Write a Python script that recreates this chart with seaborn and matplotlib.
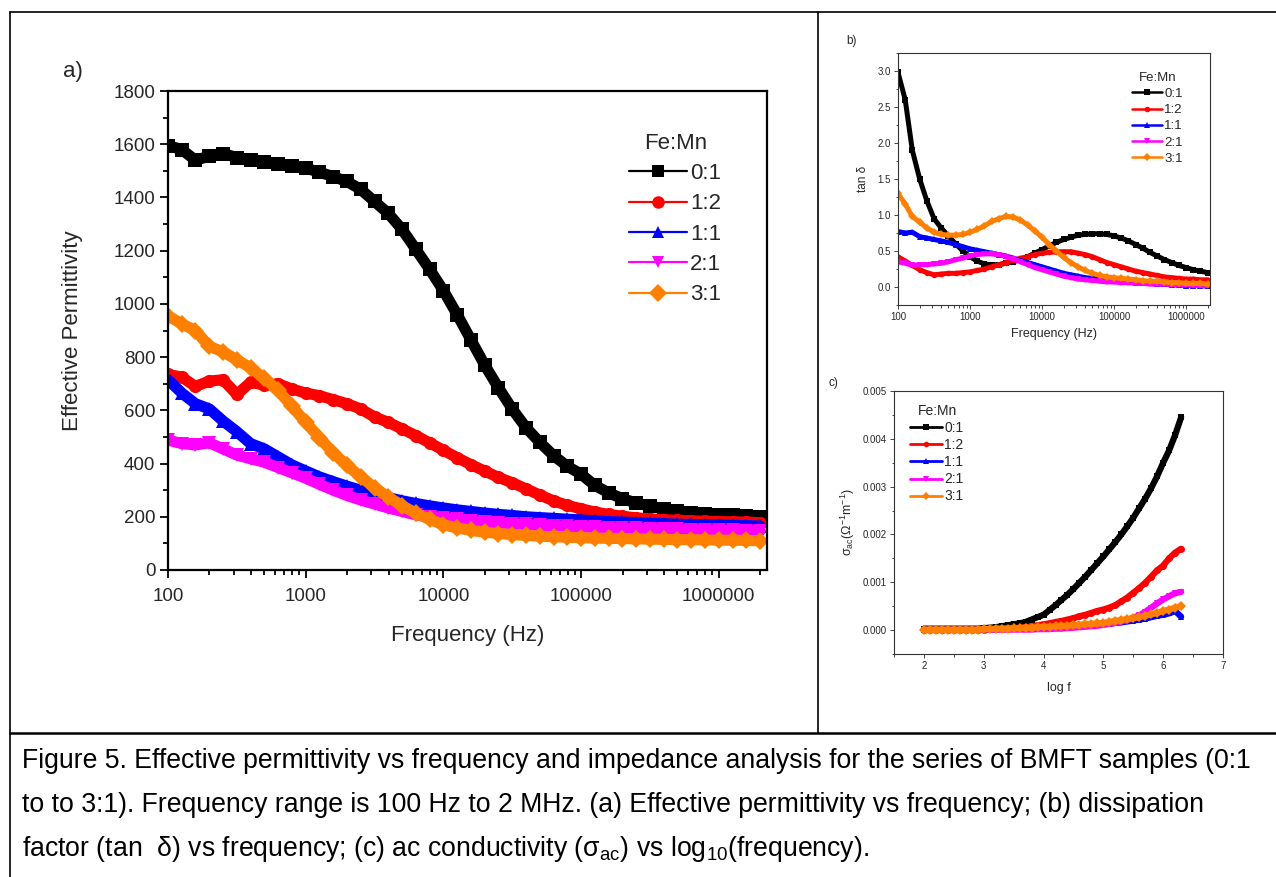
import matplotlib
matplotlib.use('Agg')
import matplotlib.pyplot as plt
from matplotlib.lines import Line2D
from matplotlib.ticker import LogLocator, NullFormatter, MultipleLocator, FormatStrFormatter
import seaborn as sns
import pandas as pd
import numpy as np

# measurement frequencies (Hz), 0.1 decade apart
FREQ = [100, 126, 158, 200, 251, 316, 398, 501, 631, 794,
        1000, 1259, 1585, 1995, 2512, 3162, 3981, 5012, 6310, 7943,
        10000, 12589, 15849, 19953, 25119, 31623, 39811, 50119, 63096, 79433,
        100000, 125893, 158489, 199526, 251189, 316228, 398107, 501187, 630957, 794328,
        1000000, 1258925, 1584893, 1995262]

LABELS = ['0:1', '1:2', '1:1', '2:1', '3:1']
COLORS = ['#000000', '#FF0000', '#0000FF', '#FF00FF', '#FF8000']
MARKERS = ['s', 'o', '^', 'v', 'D']

# (a) effective permittivity
EPS_01 = [1595, 1580, 1540, 1555, 1565, 1550, 1540, 1532, 1525, 1518,
          1510, 1495, 1478, 1460, 1430, 1385, 1340, 1280, 1205, 1130,
          1050, 960, 865, 770, 685, 605, 535, 480, 430, 390,
          360, 318, 290, 268, 252, 240, 230, 222, 216, 212,
          208, 205, 202, 200]
EPS_12 = [735, 725, 690, 710, 715, 660, 705, 695, 700, 680,
          665, 655, 640, 625, 605, 575, 555, 530, 505, 478,
          450, 422, 396, 372, 348, 328, 305, 282, 260, 243,
          230, 218, 209, 202, 196, 192, 189, 187, 185, 183,
          182, 181, 180, 178]
EPS_11 = [715, 665, 625, 605, 560, 520, 475, 455, 425, 395,
          372, 350, 332, 315, 300, 285, 272, 260, 250, 241,
          233, 226, 220, 214, 209, 205, 200, 197, 194, 191,
          188, 185, 182, 180, 178, 176, 174, 172, 171, 170,
          169, 168, 167, 165]
EPS_21 = [488, 475, 470, 478, 455, 432, 418, 405, 385, 365,
          345, 322, 300, 280, 263, 248, 233, 220, 207, 200,
          195, 190, 185, 180, 177, 174, 171, 168, 166, 164,
          162, 160, 159, 157, 156, 155, 154, 153, 152, 151,
          150, 149, 148, 147]
EPS_31 = [955, 925, 900, 840, 820, 790, 760, 720, 675, 615,
          555, 497, 440, 393, 350, 310, 274, 242, 213, 190,
          170, 158, 149, 142, 137, 133, 130, 127, 125, 123,
          121, 120, 119, 118, 117, 116, 115, 114, 114, 113,
          112, 112, 111, 110]

# (b) tan delta
TAN_01 = [2.98, 2.60, 1.90, 1.50, 1.20, 0.95, 0.82, 0.71, 0.60, 0.50,
          0.42, 0.36, 0.32, 0.31, 0.31, 0.33, 0.35, 0.38, 0.42, 0.47,
          0.52, 0.57, 0.62, 0.66, 0.69, 0.72, 0.73, 0.74, 0.74, 0.73,
          0.71, 0.68, 0.64, 0.59, 0.54, 0.48, 0.43, 0.38, 0.34, 0.30,
          0.27, 0.24, 0.22, 0.20]
TAN_12 = [0.42, 0.36, 0.30, 0.24, 0.20, 0.17, 0.18, 0.19, 0.19, 0.20,
          0.21, 0.23, 0.25, 0.28, 0.31, 0.34, 0.37, 0.40, 0.42, 0.45,
          0.47, 0.48, 0.49, 0.49, 0.49, 0.47, 0.45, 0.42, 0.38, 0.34,
          0.31, 0.28, 0.25, 0.22, 0.20, 0.18, 0.16, 0.14, 0.13, 0.12,
          0.11, 0.11, 0.10, 0.10]
TAN_11 = [0.77, 0.75, 0.76, 0.70, 0.68, 0.66, 0.64, 0.62, 0.59, 0.56,
          0.53, 0.51, 0.49, 0.47, 0.45, 0.43, 0.40, 0.37, 0.34, 0.31,
          0.28, 0.25, 0.22, 0.19, 0.17, 0.15, 0.13, 0.12, 0.11, 0.10,
          0.09, 0.08, 0.07, 0.06, 0.05, 0.05, 0.04, 0.04, 0.03, 0.03,
          0.02, 0.02, 0.02, 0.01]
TAN_21 = [0.35, 0.33, 0.30, 0.31, 0.31, 0.32, 0.33, 0.35, 0.38, 0.40,
          0.43, 0.45, 0.46, 0.46, 0.45, 0.42, 0.39, 0.35, 0.31, 0.27,
          0.24, 0.21, 0.18, 0.15, 0.13, 0.11, 0.10, 0.09, 0.08, 0.07,
          0.07, 0.06, 0.06, 0.05, 0.05, 0.04, 0.04, 0.04, 0.03, 0.03,
          0.03, 0.02, 0.02, 0.02]
TAN_31 = [1.30, 1.15, 0.98, 0.90, 0.82, 0.76, 0.73, 0.72, 0.72, 0.73,
          0.76, 0.80, 0.85, 0.91, 0.95, 0.98, 0.97, 0.93, 0.86, 0.78,
          0.69, 0.59, 0.50, 0.41, 0.34, 0.28, 0.23, 0.19, 0.16, 0.14,
          0.13, 0.12, 0.11, 0.10, 0.09, 0.08, 0.08, 0.07, 0.06, 0.06,
          0.05, 0.05, 0.05, 0.04]

# (c) ac conductivity (S/m) against log f
SIG_01 = [0.00003, 0.00003, 0.00003, 0.00003, 0.00003, 0.00003, 0.00003, 0.00003, 0.00003, 0.00003,
          0.00004, 0.00005, 0.00006, 0.00008, 0.00010, 0.00012, 0.00014, 0.00017, 0.00022, 0.00027,
          0.00032, 0.00042, 0.00052, 0.00063, 0.00074, 0.00086, 0.00099, 0.00112, 0.00126, 0.00140,
          0.00154, 0.00169, 0.00184, 0.00200, 0.00217, 0.00235, 0.00255, 0.00275, 0.00297, 0.00322,
          0.00350, 0.00376, 0.00408, 0.00445]
SIG_12 = [0.00001, 0.00001, 0.00001, 0.00001, 0.00001, 0.00001, 0.00001, 0.00001, 0.00001, 0.00001,
          0.00001, 0.00002, 0.00002, 0.00003, 0.00003, 0.00004, 0.00005, 0.00006, 0.00008, 0.00010,
          0.00012, 0.00014, 0.00017, 0.00019, 0.00022, 0.00025, 0.00029, 0.00032, 0.00036, 0.00040,
          0.00043, 0.00047, 0.00052, 0.00060, 0.00068, 0.00078, 0.00088, 0.00099, 0.00112, 0.00125,
          0.00135, 0.00150, 0.00162, 0.00170]
SIG_11 = [0.00001, 0.00001, 0.00001, 0.00001, 0.00001, 0.00001, 0.00001, 0.00001, 0.00001, 0.00001,
          0.00001, 0.00002, 0.00002, 0.00002, 0.00003, 0.00003, 0.00003, 0.00004, 0.00004, 0.00004,
          0.00005, 0.00006, 0.00006, 0.00007, 0.00008, 0.00008, 0.00009, 0.00010, 0.00010, 0.00011,
          0.00012, 0.00013, 0.00015, 0.00016, 0.00018, 0.00020, 0.00022, 0.00024, 0.00027, 0.00030,
          0.00032, 0.00035, 0.00040, 0.00028]
SIG_21 = [0.00000, 0.00000, 0.00000, 0.00000, 0.00000, 0.00000, 0.00000, 0.00000, 0.00000, 0.00000,
          0.00001, 0.00001, 0.00001, 0.00001, 0.00001, 0.00001, 0.00001, 0.00001, 0.00001, 0.00002,
          0.00002, 0.00002, 0.00003, 0.00003, 0.00004, 0.00005, 0.00006, 0.00007, 0.00008, 0.00009,
          0.00011, 0.00013, 0.00015, 0.00018, 0.00021, 0.00026, 0.00031, 0.00038, 0.00047, 0.00056,
          0.00064, 0.00071, 0.00077, 0.00080]
SIG_31 = [0.00001, 0.00001, 0.00001, 0.00001, 0.00001, 0.00001, 0.00001, 0.00001, 0.00001, 0.00001,
          0.00002, 0.00002, 0.00003, 0.00003, 0.00003, 0.00004, 0.00004, 0.00005, 0.00005, 0.00006,
          0.00007, 0.00007, 0.00008, 0.00009, 0.00009, 0.00010, 0.00011, 0.00012, 0.00013, 0.00014,
          0.00015, 0.00017, 0.00019, 0.00021, 0.00023, 0.00025, 0.00027, 0.00030, 0.00033, 0.00036,
          0.00040, 0.00043, 0.00047, 0.00050]

FREQ_TICKS = [100, 1000, 10000, 100000, 1000000]
FREQ_TICKLABELS = ['100', '1000', '10000', '100000', '1000000']

CAPTION = [
    'Figure 5. Effective permittivity vs frequency and impedance analysis for the series of BMFT samples (0:1',
    'to to 3:1). Frequency range is 100 Hz to 2 MHz. (a) Effective permittivity vs frequency; (b) dissipation',
    r'factor (tan  δ) vs frequency; (c) ac conductivity (σ$_{ac}$) vs log$_{10}$(frequency).',
]

W, H = 1276, 877

sns.set_theme(style='ticks')
plt.rcParams['font.family'] = ['Liberation Sans', 'DejaVu Sans']
plt.rcParams['mathtext.default'] = 'regular'


def long_frame(series, xname, xvals, yname):
    rows = []
    for lab, vals in zip(LABELS, series):
        rows.append(pd.DataFrame({xname: xvals, yname: vals, 'Fe:Mn': lab}))
    return pd.concat(rows, ignore_index=True)


def box(x0, y0, x1, y1):
    # pixel box (left, top, right, bottom) -> figure fraction rect
    return [x0 / W, 1 - y1 / H, (x1 - x0) / W, (y1 - y0) / H]


def draw(ax, df, x, y, lw, ms):
    sns.lineplot(data=df, x=x, y=y, hue='Fe:Mn', style='Fe:Mn',
                 hue_order=LABELS, style_order=LABELS,
                 palette=dict(zip(LABELS, COLORS)),
                 markers=dict(zip(LABELS, MARKERS)), dashes=False,
                 linewidth=lw, markersize=ms, markeredgewidth=0,
                 estimator=None, sort=False, legend=False, ax=ax)


def add_legend(ax, anchor, fs, lw, ms, hlen, lspace):
    handles = [Line2D([0], [0], color=c, marker=m, lw=lw, markersize=ms,
                      markeredgewidth=0) for c, m in zip(COLORS, MARKERS)]
    ax.legend(handles, LABELS, title='Fe:Mn', frameon=False, loc='upper left',
              bbox_to_anchor=anchor, fontsize=fs, title_fontsize=fs,
              handlelength=hlen, handletextpad=0.15, labelspacing=lspace,
              borderpad=0, borderaxespad=0)


def style_axes(ax, spine_w, color, tick_fs, major_len, minor_len, pad):
    for sp in ax.spines.values():
        sp.set_visible(True)
        sp.set_linewidth(spine_w)
        sp.set_color(color)
    ax.tick_params(which='both', direction='out', top=False, right=False,
                   color=color, width=spine_w * 0.8, labelsize=tick_fs, pad=pad)
    ax.tick_params(which='major', length=major_len)
    ax.tick_params(which='minor', length=minor_len)
    ax.set_facecolor('white')


fig = plt.figure(figsize=(W / 100, H / 100), dpi=100)
fig.patch.set_facecolor('white')

# ---------- panel a ----------
ax_a = fig.add_axes(box(168, 91, 767, 570))
df_a = long_frame([EPS_01, EPS_12, EPS_11, EPS_21, EPS_31], 'freq', FREQ, 'eps')
draw(ax_a, df_a, 'freq', 'eps', 8, 9.5)
ax_a.set_xscale('log')
ax_a.set_xlim(100, 2.24e6)
ax_a.set_ylim(0, 1800)
ax_a.set_xticks(FREQ_TICKS)
ax_a.set_xticklabels(FREQ_TICKLABELS)
ax_a.xaxis.set_minor_locator(LogLocator(base=10, subs=np.arange(2, 10)))
ax_a.xaxis.set_minor_formatter(NullFormatter())
ax_a.yaxis.set_major_locator(MultipleLocator(200))
ax_a.yaxis.set_minor_locator(MultipleLocator(100))
style_axes(ax_a, 1.6, 'black', 13.5, 6, 3.5, 3)
ax_a.tick_params(axis='x', pad=7)
ax_a.set_xlabel('Frequency (Hz)', fontsize=16, labelpad=14)
ax_a.set_ylabel('Effective Permittivity', fontsize=16, labelpad=22)
add_legend(ax_a, (0.77, 0.913), 16, 1.6, 9, 2.6, 0.42)
fig.text(63 / W, 1 - 72 / H, 'a)', fontsize=16, va='center', ha='left')

# ---------- panel b ----------
ax_b = fig.add_axes(box(898, 53, 1210, 305))
df_b = long_frame([TAN_01, TAN_12, TAN_11, TAN_21, TAN_31], 'freq', FREQ, 'tan')
draw(ax_b, df_b, 'freq', 'tan', 3.6, 4)
ax_b.set_xscale('log')
ax_b.set_xlim(100, 2.15e6)
ax_b.set_ylim(-0.25, 3.25)
ax_b.set_xticks(FREQ_TICKS)
ax_b.set_xticklabels(FREQ_TICKLABELS)
ax_b.xaxis.set_minor_locator(LogLocator(base=10, subs=np.arange(2, 10)))
ax_b.xaxis.set_minor_formatter(NullFormatter())
ax_b.yaxis.set_major_locator(MultipleLocator(0.5))
ax_b.yaxis.set_minor_locator(MultipleLocator(0.25))
ax_b.yaxis.set_major_formatter(FormatStrFormatter('%.1f'))
style_axes(ax_b, 0.8, '#333333', 7, 3, 1.8, 2)
ax_b.set_xlabel('Frequency (Hz)', fontsize=9, labelpad=4)
ax_b.set_ylabel('tan δ', fontsize=8.5, labelpad=6)
add_legend(ax_b, (0.75, 0.925), 9.5, 1.8, 4, 2.3, 0.3)
fig.text(846 / W, 1 - 41 / H, 'b)', fontsize=8.5, va='center', ha='left')

# ---------- panel c ----------
ax_c = fig.add_axes(box(894, 391, 1223, 654))
df_c = long_frame([SIG_01, SIG_12, SIG_11, SIG_21, SIG_31], 'logf', list(np.log10(FREQ)), 'sig')
draw(ax_c, df_c, 'logf', 'sig', 4.5, 5)
ax_c.set_xlim(1.5, 7)
ax_c.set_ylim(-0.0005, 0.005)
ax_c.xaxis.set_major_locator(MultipleLocator(1))
ax_c.xaxis.set_minor_locator(MultipleLocator(0.5))
ax_c.yaxis.set_major_locator(MultipleLocator(0.001))
ax_c.yaxis.set_minor_locator(MultipleLocator(0.0005))
ax_c.yaxis.set_major_formatter(FormatStrFormatter('%.3f'))
style_axes(ax_c, 0.8, '#333333', 7, 3, 1.8, 2)
ax_c.set_xlabel('log f', fontsize=9, labelpad=8)
ax_c.set_ylabel('σ$_{ac}$(Ω$^{-1}$m$^{-1}$)', fontsize=9, labelpad=4)
add_legend(ax_c, (0.05, 0.95), 10, 2, 4, 2.3, 0.22)
fig.text(828 / W, 1 - 383 / H, 'c)', fontsize=8.5, va='center', ha='left')

# ---------- table frame ----------
def hline(y, x0, x1, lw):
    fig.add_artist(Line2D([x0 / W, x1 / W], [1 - y / H, 1 - y / H],
                          transform=fig.transFigure, color='black', lw=lw))


def vline(x, y0, y1, lw):
    fig.add_artist(Line2D([x / W, x / W], [1 - y0 / H, 1 - y1 / H],
                          transform=fig.transFigure, color='black', lw=lw))


hline(12, 10, W, 1.2)
hline(733, 10, W, 1.8)
vline(10, 12, H, 1.2)
vline(818, 12, 733, 1.2)

# ---------- caption ----------
for i, line in enumerate(CAPTION):
    fig.text(22 / W, 1 - (768 + 44 * i) / H, line, fontsize=19.2,
             va='baseline', ha='left', color='black')

fig.savefig('out.png', dpi=100, facecolor='white')
